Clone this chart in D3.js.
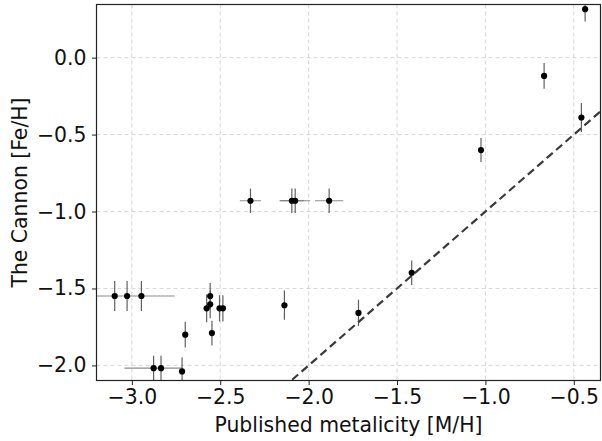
<!DOCTYPE html>
<html><head><meta charset="utf-8">
<script src="https://cdn.jsdelivr.net/npm/d3@7"></script>
<style>
html,body{margin:0;padding:0;background:#fff;}
svg{display:block;font-family:"DejaVu Sans",sans-serif;}
</style></head>
<body><svg id="c" width="602" height="441"></svg>
<script>
// Published metalicity [M/H]
const publishedMH = [-3.097, -3.027, -2.946, -2.877, -2.835, -2.716, -2.698, -2.577, -2.557, -2.557, -2.547, -2.504, -2.485,
  -2.329, -2.095, -2.076, -1.884, -2.137, -1.718, -1.417, -1.025, -0.668, -0.457, -0.436];
const publishedErr = [0, 0.27, 0, 0.165, 0, 0, 0, 0, 0, 0, 0, 0, 0,
  0.06, 0.07, 0.085, 0.08, 0, 0, 0, 0, 0, 0, 0];
// The Cannon [Fe/H]
const cannonFeH = [-1.549, -1.549, -1.549, -2.018, -2.018, -2.039, -1.800, -1.629, -1.549, -1.603, -1.790, -1.629, -1.629,
  -0.930, -0.930, -0.930, -0.930, -1.609, -1.659, -1.398, -0.601, -0.119, -0.389, 0.315];
const cannonErr = [0.097, 0.097, 0.097, 0.08, 0.08, 0.09, 0.083, 0.09, 0.085, 0.09, 0.08, 0.085, 0.085,
  0.08, 0.08, 0.08, 0.08, 0.095, 0.085, 0.08, 0.078, 0.084, 0.095, 0.08];
const xTicks = [-3.0, -2.5, -2.0, -1.5, -1.0, -0.5];
const yTicks = [-2.0, -1.5, -1.0, -0.5, 0.0];
const oneToOne = [-2.2, 0.4];

const svg = d3.select("#c");
const L = 96.5, R = 600.5, T = 4.5, B = 380.5;
const x = d3.scaleLinear().domain([-3.2, -0.349]).range([L, R]);
const y = d3.scaleLinear().domain([-2.0981, 0.3453]).range([B, T]);
const fmt = d => d3.format(".1f")(d).replace("-", "\u2212");
const fs = "20.4px";

svg.append("defs").append("clipPath").attr("id","clip")
  .append("rect").attr("x",L).attr("y",T).attr("width",R-L).attr("height",B-T);

// grid
const grid = svg.append("g");
grid.selectAll(".gx").data(xTicks).join("line")
  .attr("x1",d=>x(d)).attr("x2",d=>x(d)).attr("y1",T).attr("y2",B)
  .attr("stroke","#b0b0b0").attr("stroke-opacity",0.5).attr("stroke-width",1).attr("stroke-dasharray","4,3");
grid.selectAll(".gy").data(yTicks).join("line")
  .attr("y1",d=>y(d)).attr("y2",d=>y(d)).attr("x1",L).attr("x2",R)
  .attr("stroke","#b0b0b0").attr("stroke-opacity",0.5).attr("stroke-width",1).attr("stroke-dasharray","4,3");

const plot = svg.append("g").attr("clip-path","url(#clip)");
// 1:1 line
plot.append("line")
  .attr("x1",x(oneToOne[0])).attr("y1",y(oneToOne[0]))
  .attr("x2",x(oneToOne[1])).attr("y2",y(oneToOne[1]))
  .attr("stroke","#3a3a3a").attr("stroke-width",2.2).attr("stroke-dasharray","8,4.5");

const idx = d3.range(publishedMH.length);
// horizontal error bars
plot.selectAll(".ex").data(idx.filter(i=>publishedErr[i]>0)).join("line")
  .attr("x1",i=>x(publishedMH[i]-publishedErr[i])).attr("x2",i=>x(publishedMH[i]+publishedErr[i]))
  .attr("y1",i=>y(cannonFeH[i])).attr("y2",i=>y(cannonFeH[i]))
  .attr("stroke","#666").attr("stroke-opacity",0.75).attr("stroke-width",1.2);
// vertical error bars
plot.selectAll(".ey").data(idx).join("line")
  .attr("x1",i=>x(publishedMH[i])).attr("x2",i=>x(publishedMH[i]))
  .attr("y1",i=>y(cannonFeH[i]-cannonErr[i])).attr("y2",i=>y(cannonFeH[i]+cannonErr[i]))
  .attr("stroke","#444").attr("stroke-opacity",0.85).attr("stroke-width",1.2);
// points
plot.selectAll("circle").data(idx).join("circle")
  .attr("cx",i=>x(publishedMH[i])).attr("cy",i=>y(cannonFeH[i])).attr("r",3.1).attr("fill","#000");

// axes
const xa = svg.append("g").attr("transform",`translate(0,${B})`)
  .call(d3.axisBottom(x).tickValues(xTicks).tickFormat(fmt).tickSize(4.5).tickPadding(5));
const ya = svg.append("g").attr("transform",`translate(${L},0)`)
  .call(d3.axisLeft(y).tickValues(yTicks).tickFormat(fmt).tickSize(4.5).tickPadding(5.5));
[xa,ya].forEach(a=>{
  a.select(".domain").remove();
  a.selectAll("text").attr("font-size",fs).attr("fill","#111").attr("font-family","DejaVu Sans");
  a.selectAll("line").attr("stroke","#222");
});
xa.selectAll("text").attr("dy","0.71em");

// frame
svg.append("rect").attr("x",L).attr("y",T).attr("width",R-L).attr("height",B-T)
  .attr("fill","none").attr("stroke","#222").attr("stroke-width",1.2);

// labels
svg.append("text").attr("x",(L+R)/2).attr("y",432).attr("text-anchor","middle")
  .attr("font-size",fs).attr("fill","#111").text("Published metalicity [M/H]");
svg.append("text").attr("transform",`translate(27,${(T+B)/2}) rotate(-90)`).attr("text-anchor","middle")
  .attr("font-size",fs).attr("fill","#111").text("The Cannon [Fe/H]");
</script></body></html>
